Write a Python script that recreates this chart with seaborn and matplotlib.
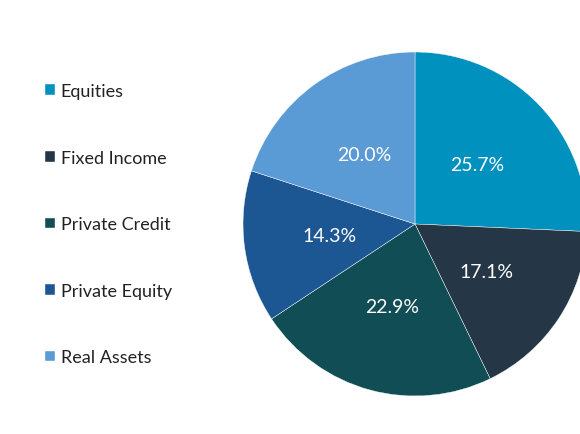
import matplotlib
matplotlib.use("Agg")
import matplotlib.pyplot as plt
import seaborn as sns

categories = ["Equities", "Fixed Income", "Private Credit", "Private Equity", "Real Assets"]
values = [25.7, 17.1, 22.9, 14.3, 20.0]
colors = ["#0091BF", "#253746", "#114D54", "#1C5794", "#5B9BD5"]

sns.set_theme(style="white")
plt.rcParams['font.family'] = ['Lato', 'DejaVu Sans']
palette = sns.color_palette(colors)

fig = plt.figure(figsize=(5.8, 4.35), dpi=100)
cx, cy, r = 415, 225, 172
W, H = 580, 435
ax = fig.add_axes([(cx - r) / W, (H - cy - r) / H, 2 * r / W, 2 * r / H])

wedges, texts, autotexts = ax.pie(
    values, colors=palette, startangle=90, counterclock=False,
    autopct="%.1f%%", pctdistance=0.5, radius=1.0,
    wedgeprops=dict(edgecolor="white", linewidth=0.3),
    textprops=dict(color="white", fontsize=14))
ax.set_xlim(-1, 1)
ax.set_ylim(-1, 1)
ax.set_aspect("equal")
ax.axis("off")

fig.legend(wedges, categories, loc="upper left", bbox_to_anchor=(38 / W, 1 - 77 / H),
           frameon=False, fontsize=13, handlelength=0.55, handleheight=0.55,
           handletextpad=0.3, labelspacing=2.8, borderaxespad=0, labelcolor="#222222")

fig.savefig("out.png", dpi=100)
